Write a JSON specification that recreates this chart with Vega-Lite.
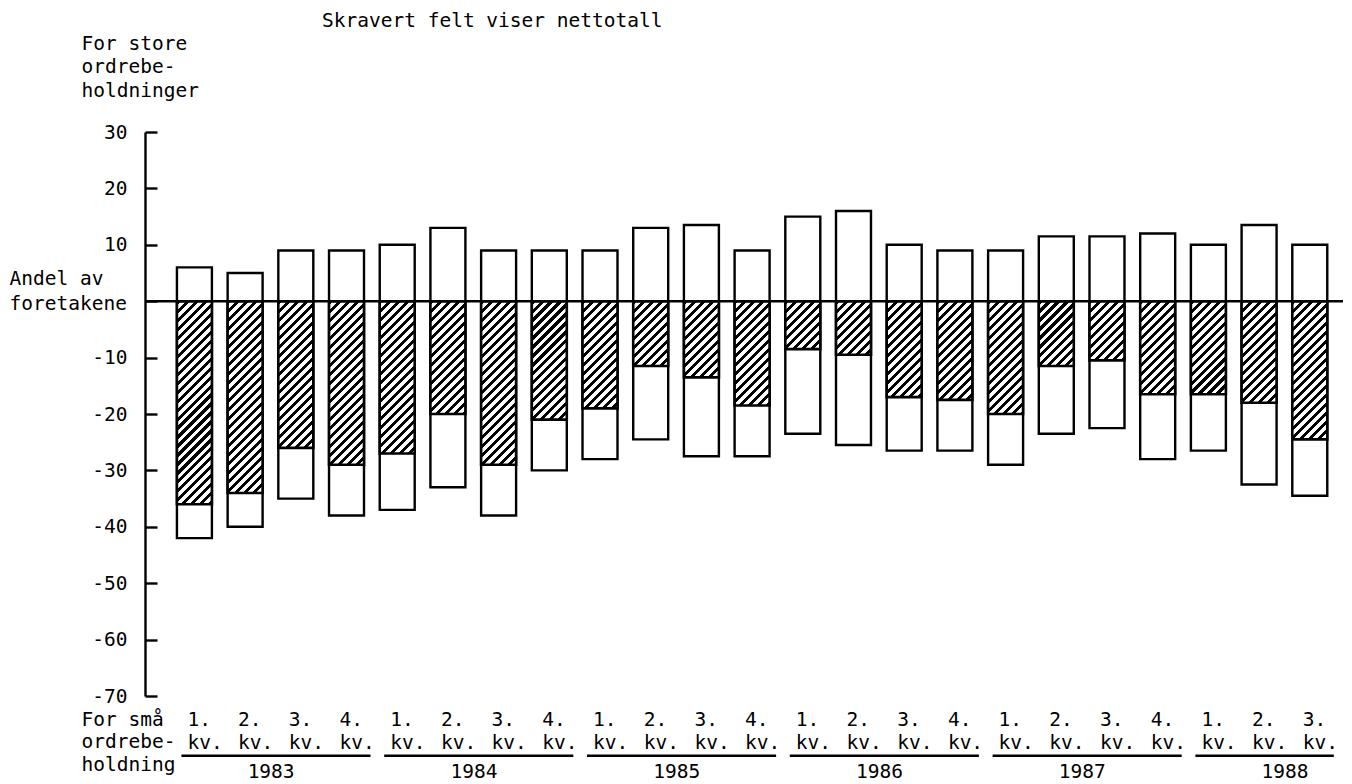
{
  "$schema": "https://vega.github.io/schema/vega-lite/v6.json",
  "width": 1198,
  "height": 564,
  "autosize": {"type": "none"},
  "padding": {"left": 145, "top": 132, "right": 9, "bottom": 88},
  "background": "white",
  "config": {
    "font": "DejaVu Sans Mono",
    "view": {"stroke": null},
    "text": {"color": "black"}
  },
  "title": {
    "text": "Skravert felt viser nettotall",
    "anchor": "start",
    "frame": "group",
    "fontSize": 19.5,
    "fontWeight": "normal",
    "color": "black",
    "dx": 177,
    "offset": 2
  },
  "datasets": {
    "kvartal": [
      {"q": "1983-1", "year": "1983", "store": 6, "sma": -42, "netto": -36},
      {"q": "1983-2", "year": "1983", "store": 5, "sma": -40, "netto": -34},
      {"q": "1983-3", "year": "1983", "store": 9, "sma": -35, "netto": -26},
      {"q": "1983-4", "year": "1983", "store": 9, "sma": -38, "netto": -29},
      {"q": "1984-1", "year": "1984", "store": 10, "sma": -37, "netto": -27},
      {"q": "1984-2", "year": "1984", "store": 13, "sma": -33, "netto": -20},
      {"q": "1984-3", "year": "1984", "store": 9, "sma": -38, "netto": -29},
      {"q": "1984-4", "year": "1984", "store": 9, "sma": -30, "netto": -21},
      {"q": "1985-1", "year": "1985", "store": 9, "sma": -28, "netto": -19},
      {"q": "1985-2", "year": "1985", "store": 13, "sma": -24.5, "netto": -11.5},
      {"q": "1985-3", "year": "1985", "store": 13.5, "sma": -27.5, "netto": -13.5},
      {"q": "1985-4", "year": "1985", "store": 9, "sma": -27.5, "netto": -18.5},
      {"q": "1986-1", "year": "1986", "store": 15, "sma": -23.5, "netto": -8.5},
      {"q": "1986-2", "year": "1986", "store": 16, "sma": -25.5, "netto": -9.5},
      {"q": "1986-3", "year": "1986", "store": 10, "sma": -26.5, "netto": -17},
      {"q": "1986-4", "year": "1986", "store": 9, "sma": -26.5, "netto": -17.5},
      {"q": "1987-1", "year": "1987", "store": 9, "sma": -29, "netto": -20},
      {"q": "1987-2", "year": "1987", "store": 11.5, "sma": -23.5, "netto": -11.5},
      {"q": "1987-3", "year": "1987", "store": 11.5, "sma": -22.5, "netto": -10.5},
      {"q": "1987-4", "year": "1987", "store": 12, "sma": -28, "netto": -16.5},
      {"q": "1988-1", "year": "1988", "store": 10, "sma": -26.5, "netto": -16.5},
      {"q": "1988-2", "year": "1988", "store": 13.5, "sma": -32.5, "netto": -18},
      {"q": "1988-3", "year": "1988", "store": 10, "sma": -34.5, "netto": -24.5}
    ],
    "aar": [
      {"year": "1983", "first": "1983-1", "last": "1983-4", "mid": "1983-2"},
      {"year": "1984", "first": "1984-1", "last": "1984-4", "mid": "1984-2"},
      {"year": "1985", "first": "1985-1", "last": "1985-4", "mid": "1985-2"},
      {"year": "1986", "first": "1986-1", "last": "1986-4", "mid": "1986-2"},
      {"year": "1987", "first": "1987-1", "last": "1987-4", "mid": "1987-2"},
      {"year": "1988", "first": "1988-1", "last": "1988-3", "mid": "1988-2"}
    ]
  },
  "layer": [
    {
      "data": {"name": "kvartal"},
      "mark": {"type": "bar", "fill": "white", "stroke": "black", "strokeWidth": 2.4},
      "encoding": {
        "x": {
          "field": "q", "type": "ordinal", "sort": "ascending",
          "scale": {"paddingInner": 0.31, "paddingOuter": 0.47, "align": 0.67},
          "axis": {
            "title": ["For små", "ordrebe-", "holdning"],
            "titleX": -64, "titleY": 14, "titleAlign": "left", "titleBaseline": "top",
            "titleAngle": 0, "titleFontSize": 19.5, "titleFontWeight": "normal",
            "titleColor": "black", "titleLineHeight": 22.5,
            "labelExpr": "[substring(datum.value, 5) + '.', 'kv.']",
            "labelAngle": 0, "labelBaseline": "top", "labelLineHeight": 23,
            "labelAlign": "left", "labelOffset": -7,
            "labelPadding": 14, "labelFontSize": 19.5, "labelColor": "black",
            "ticks": false, "tickSize": 0, "domain": false, "labelOverlap": false
          }
        },
        "y": {
          "field": "sma", "type": "quantitative",
          "scale": {"domain": [-70, 30], "nice": false, "zero": false},
          "axis": {
            "title": ["For store", "ordrebe-", "holdninger"],
            "titleAngle": 0, "titleAlign": "left", "titleBaseline": "top",
            "titleX": -64, "titleY": -98, "titleFontSize": 19.5, "titleFontWeight": "normal",
            "titleLineHeight": 23.5, "titleColor": "black",
            "values": [30, 20, 10, 0, -10, -20, -30, -40, -50, -60, -70],
            "labelExpr": "datum.value == 0 ? ['Andel av', 'foretakene'] : '' + datum.value",
            "labelFontSize": 19.5, "labelColor": "black",
            "labelPadding": {"condition": {"test": "datum.value == 0", "value": 148}, "value": 30},
            "labelAlign": {"condition": {"test": "datum.value == 0", "value": "left"}, "value": "right"},
            "labelLineHeight": 25,
            "labelOffset": {"condition": {"test": "datum.value == 0", "value": -23}, "value": 0},
            "tickSize": -12, "tickWidth": 2.4, "tickColor": "black",
            "domainColor": "black", "domainWidth": 2.4, "grid": false,
            "labelOverlap": false, "labelFlush": false, "labelBound": false
          }
        }
      }
    },
    {
      "data": {"name": "kvartal"},
      "mark": {"type": "bar", "fill": "white", "stroke": "black", "strokeWidth": 2.4},
      "encoding": {
        "x": {"field": "q", "type": "ordinal", "sort": "ascending"},
        "y": {"field": "store", "type": "quantitative"}
      }
    },
    {
      "data": {"name": "kvartal"},
      "mark": {
        "type": "bar", "stroke": "black", "strokeWidth": 2.6,
        "fill": {"expr": "{gradient:'linear',x1:0,y1:0,x2:1.4142*178*bandwidth('x')/(pow(bandwidth('x'),2)+pow(scale('y',datum.netto)-scale('y',0),2)),y2:1.4142*178*(scale('y',datum.netto)-scale('y',0))/(pow(bandwidth('x'),2)+pow(scale('y',datum.netto)-scale('y',0),2)),stops:[{offset:0,color:'#000'},{offset:0.0161,color:'#000'},{offset:0.0161,color:'#fff'},{offset:0.0357,color:'#fff'},{offset:0.0357,color:'#000'},{offset:0.0518,color:'#000'},{offset:0.0518,color:'#fff'},{offset:0.0714,color:'#fff'},{offset:0.0714,color:'#000'},{offset:0.0875,color:'#000'},{offset:0.0875,color:'#fff'},{offset:0.1071,color:'#fff'},{offset:0.1071,color:'#000'},{offset:0.1232,color:'#000'},{offset:0.1232,color:'#fff'},{offset:0.1429,color:'#fff'},{offset:0.1429,color:'#000'},{offset:0.159,color:'#000'},{offset:0.159,color:'#fff'},{offset:0.1786,color:'#fff'},{offset:0.1786,color:'#000'},{offset:0.1947,color:'#000'},{offset:0.1947,color:'#fff'},{offset:0.2143,color:'#fff'},{offset:0.2143,color:'#000'},{offset:0.2304,color:'#000'},{offset:0.2304,color:'#fff'},{offset:0.25,color:'#fff'},{offset:0.25,color:'#000'},{offset:0.2661,color:'#000'},{offset:0.2661,color:'#fff'},{offset:0.2857,color:'#fff'},{offset:0.2857,color:'#000'},{offset:0.3018,color:'#000'},{offset:0.3018,color:'#fff'},{offset:0.3214,color:'#fff'},{offset:0.3214,color:'#000'},{offset:0.3375,color:'#000'},{offset:0.3375,color:'#fff'},{offset:0.3571,color:'#fff'},{offset:0.3571,color:'#000'},{offset:0.3732,color:'#000'},{offset:0.3732,color:'#fff'},{offset:0.3929,color:'#fff'},{offset:0.3929,color:'#000'},{offset:0.409,color:'#000'},{offset:0.409,color:'#fff'},{offset:0.4286,color:'#fff'},{offset:0.4286,color:'#000'},{offset:0.4447,color:'#000'},{offset:0.4447,color:'#fff'},{offset:0.4643,color:'#fff'},{offset:0.4643,color:'#000'},{offset:0.4804,color:'#000'},{offset:0.4804,color:'#fff'},{offset:0.5,color:'#fff'},{offset:0.5,color:'#000'},{offset:0.5161,color:'#000'},{offset:0.5161,color:'#fff'},{offset:0.5357,color:'#fff'},{offset:0.5357,color:'#000'},{offset:0.5518,color:'#000'},{offset:0.5518,color:'#fff'},{offset:0.5714,color:'#fff'},{offset:0.5714,color:'#000'},{offset:0.5875,color:'#000'},{offset:0.5875,color:'#fff'},{offset:0.6071,color:'#fff'},{offset:0.6071,color:'#000'},{offset:0.6232,color:'#000'},{offset:0.6232,color:'#fff'},{offset:0.6429,color:'#fff'},{offset:0.6429,color:'#000'},{offset:0.659,color:'#000'},{offset:0.659,color:'#fff'},{offset:0.6786,color:'#fff'},{offset:0.6786,color:'#000'},{offset:0.6947,color:'#000'},{offset:0.6947,color:'#fff'},{offset:0.7143,color:'#fff'},{offset:0.7143,color:'#000'},{offset:0.7304,color:'#000'},{offset:0.7304,color:'#fff'},{offset:0.75,color:'#fff'},{offset:0.75,color:'#000'},{offset:0.7661,color:'#000'},{offset:0.7661,color:'#fff'},{offset:0.7857,color:'#fff'},{offset:0.7857,color:'#000'},{offset:0.8018,color:'#000'},{offset:0.8018,color:'#fff'},{offset:0.8214,color:'#fff'},{offset:0.8214,color:'#000'},{offset:0.8375,color:'#000'},{offset:0.8375,color:'#fff'},{offset:0.8571,color:'#fff'},{offset:0.8571,color:'#000'},{offset:0.8732,color:'#000'},{offset:0.8732,color:'#fff'},{offset:0.8929,color:'#fff'},{offset:0.8929,color:'#000'},{offset:0.909,color:'#000'},{offset:0.909,color:'#fff'},{offset:0.9286,color:'#fff'},{offset:0.9286,color:'#000'},{offset:0.9447,color:'#000'},{offset:0.9447,color:'#fff'},{offset:0.9643,color:'#fff'},{offset:0.9643,color:'#000'},{offset:0.9804,color:'#000'},{offset:0.9804,color:'#fff'},{offset:1,color:'#fff'}]}"}
      },
      "encoding": {
        "x": {"field": "q", "type": "ordinal", "sort": "ascending"},
        "y": {"field": "netto", "type": "quantitative"}
      }
    },
    {
      "data": {"values": [{}]},
      "mark": {"type": "rule", "color": "black", "strokeWidth": 2.4},
      "encoding": {"y": {"datum": 0}}
    },
    {
      "data": {"name": "aar"},
      "mark": {"type": "rule", "color": "black", "strokeWidth": 2.6, "xOffset": -13, "x2Offset": 24},
      "encoding": {
        "x": {"field": "first", "type": "ordinal", "sort": "ascending"},
        "x2": {"field": "last"},
        "y": {"datum": -80.6}
      }
    },
    {
      "data": {"name": "aar"},
      "mark": {"type": "text", "align": "center", "baseline": "alphabetic", "dx": 26, "fontSize": 19.5, "color": "black"},
      "encoding": {
        "x": {"field": "mid", "type": "ordinal", "sort": "ascending"},
        "y": {"datum": -84.5},
        "text": {"field": "year"}
      }
    }
  ]
}
